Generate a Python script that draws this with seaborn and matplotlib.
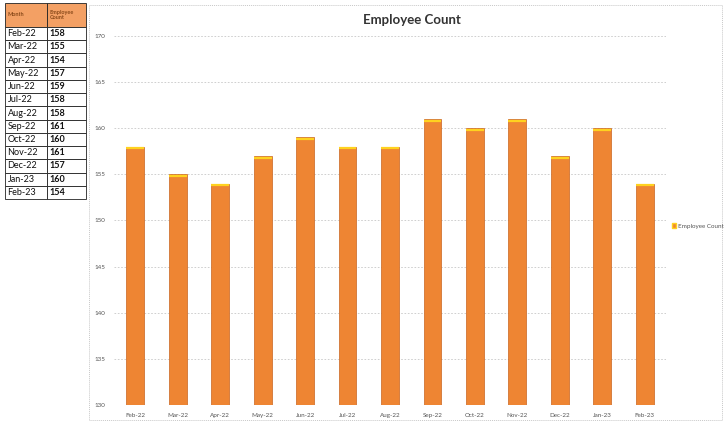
import matplotlib
matplotlib.use("Agg")
import matplotlib.pyplot as plt
import seaborn as sns
import pandas as pd
from matplotlib.patches import Rectangle, Patch

months = ["Feb-22", "Mar-22", "Apr-22", "May-22", "Jun-22", "Jul-22", "Aug-22",
          "Sep-22", "Oct-22", "Nov-22", "Dec-22", "Jan-23", "Feb-23"]
counts = [158, 155, 154, 157, 159, 158, 158, 161, 160, 161, 157, 160, 154]
yticks = [130, 135, 140, 145, 150, 155, 160, 165, 170]

sns.set_theme(style="white")
plt.rcParams['font.family'] = ['Lato', 'DejaVu Sans']

W, H = 725, 424
fig = plt.figure(figsize=(W / 100, H / 100), dpi=100)

# chart border
fig.patches.append(Rectangle((89 / W, 4 / H), (722 - 89) / W, (419 - 4) / H,
                             transform=fig.transFigure, fill=False,
                             edgecolor="#c8c8c8", linestyle=(0, (1, 1)), lw=0.7))

ax = fig.add_axes([114 / W, (H - 405) / H, (666 - 114) / W, (405 - 36) / H])
df = pd.DataFrame({"Month": months, "Employee Count": counts})
sns.barplot(data=df, x="Month", y="Employee Count", color="#EE8533",
            width=0.42, ax=ax, saturation=1, edgecolor="#C9651F", linewidth=0.5)
for p in ax.patches:
    x0 = p.get_x()
    top = p.get_y() + p.get_height()
    ax.plot([x0, x0 + p.get_width()], [top - 0.18, top - 0.18],
            color="#FFD21F", lw=1.6, solid_capstyle="butt", zorder=5)
ax.set_ylim(130, 170)
ax.set_yticks(yticks)
ax.set_yticklabels([str(v) for v in yticks])
ax.set_xlim(-0.5, len(months) - 0.5)
ax.grid(axis="y", color="#c8c8c8", linestyle=(0, (2, 2)), lw=0.6)
ax.set_axisbelow(True)
for s in ax.spines.values():
    s.set_visible(False)
ax.set_xlabel("")
ax.set_ylabel("")
ax.tick_params(axis="both", labelsize=4.5, colors="#555555", length=0, pad=6)

fig.text(412 / W, (H - 20) / H, "Employee Count", ha="center", va="center",
         fontsize=9.5, fontweight="bold", color="#333333")

fig.legend(handles=[Patch(facecolor="#EE8533", edgecolor="#FFD21F")],
           labels=["Employee Count"], loc="center left",
           bbox_to_anchor=(666 / W, (H - 226) / H), frameon=False,
           fontsize=4.5, handlelength=0.7, handleheight=0.7, handletextpad=0.3,
           labelcolor="#555555")

# data table on the left
tax = fig.add_axes([5 / W, (H - 199) / H, 81 / W, 196 / H])
tax.axis("off")
cell_text = [[m, str(c)] for m, c in zip(months, counts)]
tbl = tax.table(cellText=cell_text, colLabels=["Month", "Employee\nCount"],
                bbox=[0, 0, 1, 1], cellLoc="left", colLoc="left",
                colWidths=[0.52, 0.48])
tbl.auto_set_font_size(False)
n = len(months)
hh = 24 / 196
rh = (1 - hh) / n
for (r, c), cell in tbl.get_celld().items():
    cell.set_edgecolor("#222222")
    cell.set_linewidth(0.6)
    cell.PAD = 0.06
    if r == 0:
        cell.set_height(hh)
        cell.set_facecolor("#F3A064")
        cell.get_text().set_fontsize(4)
        cell.get_text().set_color("#8a4a1a")
        cell.get_text().set_fontweight("bold")
    else:
        cell.set_height(rh)
        cell.get_text().set_fontsize(6.5)
        cell.get_text().set_color("#111111")
        if c == 1:
            cell.get_text().set_fontweight("bold")

fig.savefig("out.png", dpi=100)
